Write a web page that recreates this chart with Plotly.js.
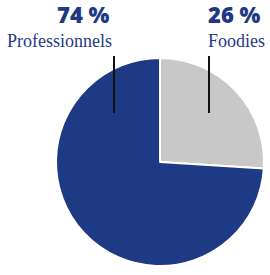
<!DOCTYPE html>
<html><head><meta charset="utf-8">
<script src="https://cdn.plot.ly/plotly-3.0.1.min.js"></script>
<style>html,body{margin:0;padding:0;background:#fff}#c{width:270px;height:275px}</style>
</head><body><div id="c"></div>
<script>
const categories = ["Foodies", "Professionnels"];
const shares = [26, 74];
const pctLabels = ["26 %", "74 %"];
const colors = ["#c8c8c8", "#1f3a84"];

const W = 270, H = 275;
const px = x => x / W, py = y => 1 - y / H;

const data = [{
  type: "pie",
  labels: categories,
  values: shares,
  sort: false,
  direction: "clockwise",
  rotation: 0,
  textinfo: "none",
  hoverinfo: "none",
  marker: {colors: colors, line: {color: "#ffffff", width: 2}},
  domain: {x: [px(56), px(264)], y: [py(266), py(58)]},
  showlegend: false
}];

const blue = "#1f3a84";
const annotations = [
  {text: pctLabels[1], x: px(111), y: py(14), xanchor: "right", yanchor: "middle",
   font: {family: "Open Sans", size: 22, color: blue, weight: 800}},
  {text: categories[1], x: px(114), y: py(41), xanchor: "right", yanchor: "middle",
   font: {family: "Liberation Serif, DejaVu Serif, serif", size: 18, color: blue}},
  {text: pctLabels[0], x: px(206), y: py(14), xanchor: "left", yanchor: "middle",
   font: {family: "Open Sans", size: 22, color: blue, weight: 800}},
  {text: categories[0], x: px(206), y: py(41), xanchor: "left", yanchor: "middle",
   font: {family: "Liberation Serif, DejaVu Serif, serif", size: 18, color: blue}}
].map(a => Object.assign({xref: "paper", yref: "paper", showarrow: false}, a));

const shapes = [
  {type: "line", xref: "paper", yref: "paper", x0: px(114), x1: px(114), y0: py(56), y1: py(113), line: {color: "#111", width: 2}},
  {type: "line", xref: "paper", yref: "paper", x0: px(209), x1: px(209), y0: py(56), y1: py(113), line: {color: "#111", width: 2}}
];

Plotly.newPlot("c", data, {
  width: W, height: H,
  margin: {l: 0, r: 0, t: 0, b: 0},
  paper_bgcolor: "#fff", plot_bgcolor: "#fff",
  annotations: annotations, shapes: shapes
}, {displayModeBar: false, staticPlot: true});
</script></body></html>
